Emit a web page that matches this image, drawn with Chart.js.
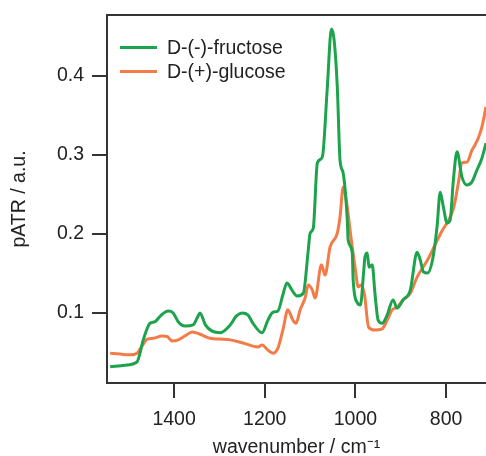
<!DOCTYPE html>
<html>
<head>
<meta charset="utf-8">
<script src="https://cdn.jsdelivr.net/npm/chart.js@4.4.1/dist/chart.umd.min.js"></script>
<style>
    html, body { margin: 0; padding: 0; background: #fff; overflow: hidden; }
    #wrap { position: relative; width: 486px; height: 456px; }
    #legend { position: absolute; left: 120px; top: 35px; font-family: "Liberation Sans", Arial, sans-serif; font-size: 19.5px; color: #222; }
    .row { height: 24px; display: flex; align-items: center; }
    .swatch { width: 37px; height: 3px; margin-right: 10px; }
</style>
</head>
<body>
<div id="wrap">
    <canvas id="chart"></canvas>
    <div id="legend"></div>
</div>
<script>
// wavenumber (cm-1) and pATR values
const fructoseWn = [1541, 1508, 1482, 1468, 1459, 1453, 1442, 1429, 1413, 1402, 1391, 1376, 1358, 1349, 1343, 1331, 1316, 1298, 1276, 1263, 1250, 1237, 1226, 1206, 1193, 1182, 1171, 1160, 1151, 1140, 1129, 1115, 1104, 1100, 1093, 1084, 1073, 1062, 1053, 1047, 1040, 1034, 1027, 1018, 1016, 1007, 1005, 996, 989, 982, 979, 974, 970, 963, 957, 950, 941, 930, 917, 908, 895, 879, 864, 857, 850, 841, 830, 820, 813, 806, 798, 791, 784, 776, 765, 754, 743, 732, 721, 712];
const fructoseAbs = [0.032, 0.034, 0.038, 0.066, 0.081, 0.087, 0.089, 0.097, 0.1025, 0.100, 0.089, 0.0835, 0.085, 0.094, 0.100, 0.085, 0.077, 0.075, 0.085, 0.096, 0.100, 0.0975, 0.087, 0.075, 0.091, 0.101, 0.1025, 0.123, 0.138, 0.129, 0.1215, 0.125, 0.180, 0.201, 0.2075, 0.290, 0.2975, 0.386, 0.4595, 0.4455, 0.386, 0.2935, 0.277, 0.218, 0.192, 0.176, 0.142, 0.113, 0.110, 0.151, 0.171, 0.176, 0.158, 0.161, 0.125, 0.091, 0.087, 0.0975, 0.1165, 0.106, 0.1165, 0.129, 0.177, 0.167, 0.152, 0.1505, 0.167, 0.209, 0.253, 0.234, 0.214, 0.218, 0.268, 0.304, 0.272, 0.262, 0.266, 0.281, 0.296, 0.315];

const glucoseWn = [1541, 1519, 1497, 1482, 1471, 1459, 1446, 1426, 1415, 1404, 1391, 1376, 1360, 1349, 1338, 1321, 1298, 1276, 1248, 1215, 1206, 1193, 1182, 1171, 1160, 1149, 1138, 1131, 1122, 1111, 1104, 1095, 1089, 1075, 1067, 1056, 1040, 1034, 1027, 1018, 1011, 1000, 994, 987, 980, 971, 957, 941, 930, 919, 908, 895, 879, 864, 841, 828, 808, 794, 783, 773, 765, 754, 743, 736, 729, 721, 712];
const glucoseAbs = [0.049, 0.048, 0.047, 0.049, 0.058, 0.067, 0.068, 0.071, 0.070, 0.0645, 0.066, 0.071, 0.076, 0.0745, 0.072, 0.068, 0.067, 0.066, 0.062, 0.057, 0.0595, 0.053, 0.049, 0.0555, 0.0785, 0.104, 0.091, 0.087, 0.104, 0.119, 0.1355, 0.129, 0.119, 0.161, 0.148, 0.1835, 0.201, 0.2215, 0.2595, 0.234, 0.201, 0.1545, 0.133, 0.1355, 0.123, 0.082, 0.0785, 0.080, 0.091, 0.104, 0.1075, 0.1165, 0.125, 0.1455, 0.167, 0.182, 0.205, 0.218, 0.234, 0.2645, 0.290, 0.291, 0.306, 0.313, 0.3215, 0.3355, 0.361];

const xTicks = [1400, 1200, 1000, 800];
const yTicks = [0.1, 0.2, 0.3, 0.4];
const seriesNames = ['D-(-)-fructose', 'D-(+)-glucose'];
const seriesColors = ['#1ca34c', '#f37b48'];

const FONT = "'Liberation Sans', Arial, sans-serif";
const AXIS = '#333';

function toPoints(xs, ys) {
    return xs.map((x, i) => ({ x: x, y: ys[i] }));
}

// frame: left, top and bottom lines (right side is cut off in the original)
const framePlugin = {
    id: 'frame',
    afterDraw(chart) {
        const { ctx, chartArea: a } = chart;
        ctx.save();
        ctx.strokeStyle = AXIS;
        ctx.lineWidth = 2;
        ctx.beginPath();
        ctx.moveTo(chart.width, a.top);
        ctx.lineTo(a.left, a.top);
        ctx.lineTo(a.left, a.bottom);
        ctx.lineTo(chart.width, a.bottom);
        ctx.stroke();
        ctx.restore();
    }
};

Chart.defaults.font.family = FONT;
Chart.defaults.color = '#222';

new Chart(document.getElementById('chart'), {
    type: 'line',
    data: {
        datasets: [{
            label: seriesNames[0],
            data: toPoints(fructoseWn, fructoseAbs),
            borderColor: seriesColors[0],
            borderWidth: 3,
            pointRadius: 0,
            cubicInterpolationMode: 'monotone'
        }, {
            label: seriesNames[1],
            data: toPoints(glucoseWn, glucoseAbs),
            borderColor: seriesColors[1],
            borderWidth: 3,
            pointRadius: 0,
            cubicInterpolationMode: 'monotone'
        }]
    },
    options: {
        responsive: true,
        maintainAspectRatio: false,
        animation: false,
        layout: { padding: { top: 15, left: 0, right: 0, bottom: 0 } },
        plugins: {
            legend: { display: false },
            tooltip: { enabled: false }
        },
        scales: {
            x: {
                type: 'linear',
                reverse: true,
                min: 712,
                max: 1548,
                afterBuildTicks: s => { s.ticks = xTicks.map(v => ({ value: v })); },
                afterFit: s => { s.height = 73; s.paddingLeft = 0; s.paddingRight = 0; },
                border: { display: false },
                grid: { drawOnChartArea: false, drawTicks: true, tickLength: 15, color: AXIS, lineWidth: 2 },
                ticks: { font: { size: 19.5 }, padding: 10, maxRotation: 0, color: '#222', callback: v => String(v) },
                title: { display: true, text: 'wavenumber / cm⁻¹', font: { size: 19.5, lineHeight: 0.85 }, padding: 0, color: '#222' }
            },
            y: {
                min: 0.0114,
                max: 0.4772,
                afterBuildTicks: s => { s.ticks = yTicks.map(v => ({ value: v })); },
                afterFit: s => { s.width = 107; s.paddingTop = 0; s.paddingBottom = 0; },
                border: { display: false },
                grid: { drawOnChartArea: false, drawTicks: true, tickLength: 15, color: AXIS, lineWidth: 2 },
                ticks: { font: { size: 19.5 }, padding: 8, color: '#222', callback: v => v.toFixed(1) },
                title: { display: true, text: 'pATR / a.u.', font: { size: 19.5 }, padding: 8, color: '#222' }
            }
        }
    },
    plugins: [framePlugin]
});

// legend in the top-left corner of the plot
const legend = document.getElementById('legend');
seriesNames.forEach((name, i) => {
    const row = document.createElement('div');
    row.className = 'row';
    const sw = document.createElement('span');
    sw.className = 'swatch';
    sw.style.background = seriesColors[i];
    const label = document.createElement('span');
    label.textContent = name;
    row.appendChild(sw);
    row.appendChild(label);
    legend.appendChild(row);
});
</script>
</body>
</html>
